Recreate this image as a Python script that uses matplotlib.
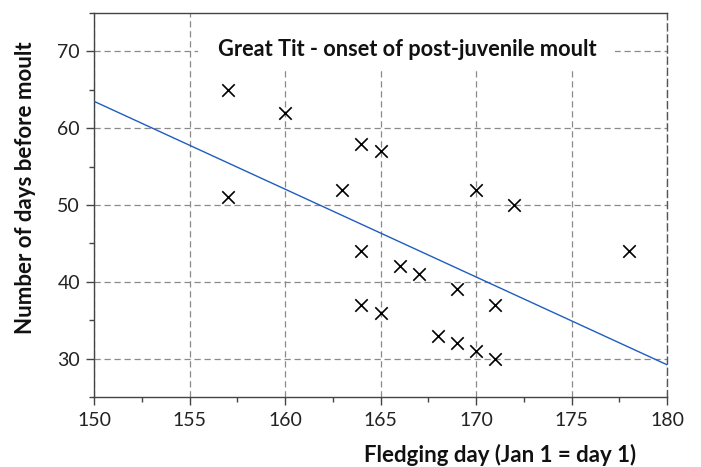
import matplotlib
matplotlib.use("Agg")
import matplotlib.pyplot as plt
from matplotlib.ticker import MultipleLocator
from matplotlib.patches import Rectangle

plt.rcParams['font.family'] = ['Lato', 'DejaVu Sans']

# Data
fledging_day = [157, 157, 160, 163, 164, 165, 164, 164, 165, 166,
                167, 168, 169, 169, 170, 170, 171, 171, 172, 178]
days_before_moult = [65, 51, 62, 52, 58, 57, 44, 37, 36, 42,
                     41, 33, 39, 32, 52, 31, 37, 30, 50, 44]
fit_x = [150, 180]
fit_y = [63.5, 29.2]

title = "Great Tit - onset of post-juvenile moult"
xlabel = "Fledging day (Jan 1 = day 1)"
ylabel = "Number of days before moult"

fig = plt.figure(figsize=(7.01, 4.67), dpi=100)
ax = fig.add_axes([94/701, 1-397/467, (667-94)/701, (397-13)/467])

ax.set_xlim(150, 180)
ax.set_ylim(25, 75)
ax.xaxis.set_major_locator(MultipleLocator(5))
ax.xaxis.set_minor_locator(MultipleLocator(2.5))
ax.yaxis.set_major_locator(MultipleLocator(10))
ax.yaxis.set_minor_locator(MultipleLocator(5))

grid_col = '#8a8a8a'
ax.grid(True, which='major', color=grid_col, linestyle=(0, (5, 3)), linewidth=0.9)
ax.set_axisbelow(True)

for s in ['left', 'bottom', 'top']:
    ax.spines[s].set_color('#444444')
    ax.spines[s].set_linewidth(1.0)
ax.spines['right'].set_color('#555555')
ax.spines['right'].set_linestyle((0, (5, 3)))
ax.spines['right'].set_linewidth(1.0)

ax.tick_params(which='major', direction='out', length=6, width=1, color='#444444',
               labelsize=14, labelcolor='#222222')
ax.tick_params(which='minor', direction='out', length=3.5, width=1, color='#444444')
ax.tick_params(axis='x', pad=5)
ax.tick_params(axis='y', pad=4)

ax.plot(fit_x, fit_y, color='#1f5cc0', linewidth=1.0, zorder=3)
ax.scatter(fledging_day, days_before_moult, marker='x', s=80, color='black',
           linewidths=1.2, zorder=4)

# white box behind title
ax.add_patch(Rectangle((0.1815, 0.849), 0.909 - 0.1815, 0.151, transform=ax.transAxes,
                       facecolor='white', edgecolor='none', zorder=2.5))
ax.text(0.546, 0.906, title, transform=ax.transAxes, ha='center', va='center',
        fontsize=15.7, fontweight='bold', color='#111111', zorder=5)

fig.text(636/701, 1-455/467, xlabel, ha='right', va='center', fontsize=16,
         fontweight='bold', color='#111111')
fig.text(26/701, 1-188/467, ylabel, ha='center', va='center', rotation=90,
         fontsize=16, fontweight='bold', color='#111111')

fig.savefig('out.png', dpi=100)
